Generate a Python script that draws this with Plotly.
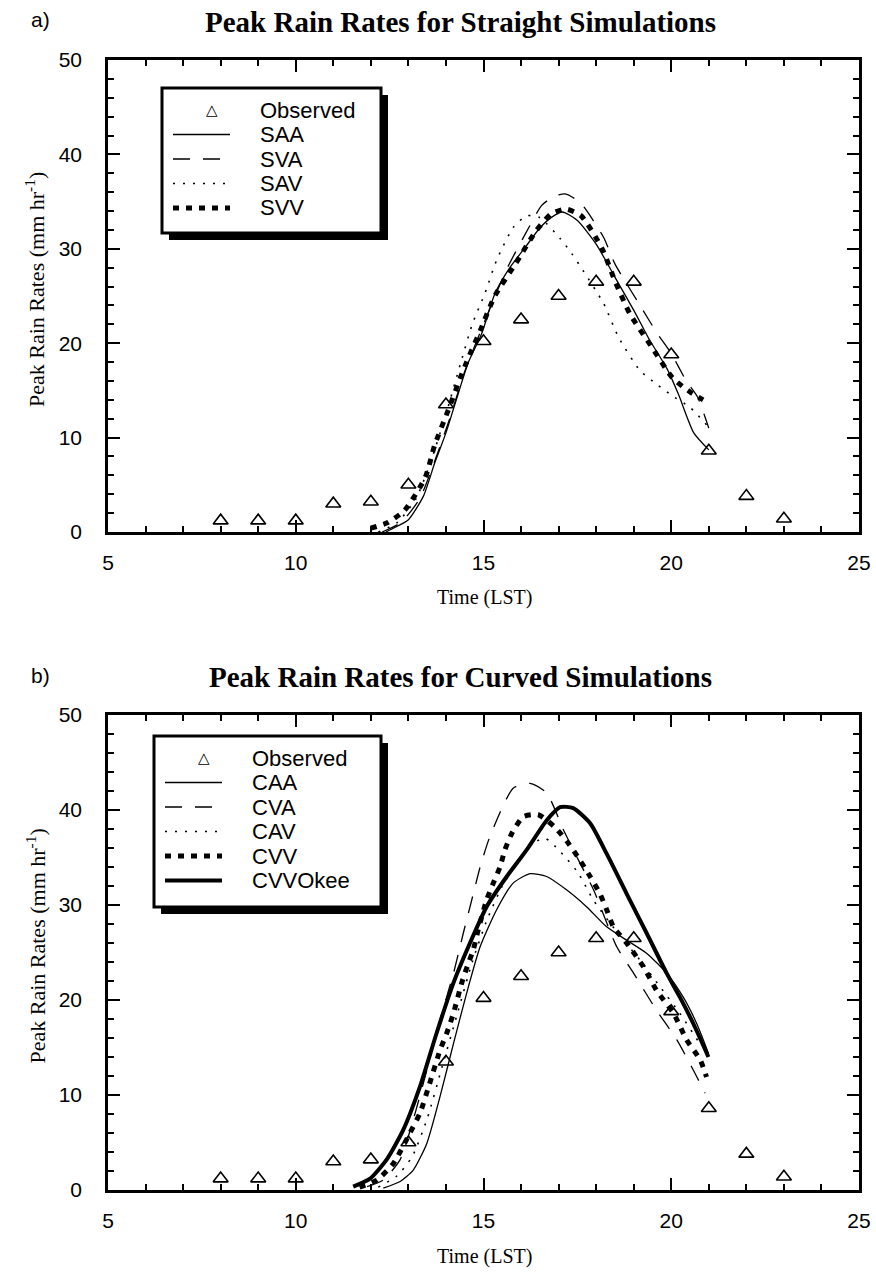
import plotly.graph_objects as go

# ---------------- data ----------------
obs_t = [8, 9, 10, 11, 12, 13, 14, 15, 16, 17, 18, 19, 20, 21, 22, 23]
obs_v = [1.2, 1.2, 1.2, 3.0, 3.2, 5.0, 13.5, 20.2, 22.5, 25.0, 26.5, 26.5, 18.8, 8.6, 3.8, 1.4]

saa_t = [12.4, 12.6, 13.0, 13.4, 13.7, 14.0, 14.33, 14.6, 14.95, 15.3, 15.7, 16.1, 16.5, 16.8, 17.1, 17.5, 18.0, 18.5, 19.0, 19.4, 19.9, 20.2, 20.6, 21.0]
saa_v = [0.0, 0.4, 1.3, 3.8, 7.3, 10.5, 14.7, 18.0, 21.0, 25.2, 28.0, 30.1, 32.2, 33.3, 33.9, 33.0, 30.5, 27.0, 23.5, 20.5, 17.2, 14.5, 10.5, 8.7]

sva_t = [12.3, 12.8, 13.3, 13.7, 14.1, 14.5, 15.0, 15.6, 16.2, 16.55, 16.9, 17.2, 17.6, 18.2, 18.5, 19.2, 19.6, 20.0, 20.4, 20.7, 21.0]
sva_v = [0.0, 1.0, 3.5, 7.5, 12.0, 17.0, 22.0, 27.7, 32.2, 34.6, 35.6, 35.8, 34.8, 31.2, 28.4, 23.8, 21.2, 18.9, 16.0, 14.3, 11.0]

sav_t = [12.2, 12.7, 13.2, 13.6, 14.0, 14.4, 14.7, 15.04, 15.35, 15.8, 16.15, 16.5, 17.04, 17.35, 17.65, 18.2, 18.6, 19.17, 19.6, 20.0, 20.5, 21.0]
sav_v = [0.0, 1.0, 3.5, 7.5, 12.5, 18.0, 22.0, 25.3, 28.8, 32.3, 33.5, 33.3, 31.1, 29.5, 27.7, 24.2, 20.6, 17.1, 15.7, 14.5, 13.2, 11.1]

svv_t = [12.0, 12.45, 12.9, 13.45, 13.7, 14.06, 14.38, 14.55, 14.92, 15.3, 15.85, 16.4, 16.8, 17.2, 17.6, 18.16, 18.5, 18.9, 19.48, 20.04, 20.55, 20.85]
svv_v = [0.4, 1.0, 2.3, 5.8, 9.2, 12.9, 16.3, 18.0, 21.4, 25.0, 28.4, 31.9, 33.7, 34.2, 33.5, 30.0, 26.6, 23.1, 19.6, 16.3, 14.7, 14.0]

caa_t = [12.33, 12.78, 13.13, 13.49, 13.84, 14.2, 14.55, 14.91, 15.35, 15.79, 16.24, 16.68, 17.21, 17.75, 18.28, 18.81, 19.35, 19.88, 20.32, 20.68, 20.99]
caa_v = [0.2, 0.9, 2.1, 4.9, 9.8, 15.4, 20.7, 25.6, 29.5, 32.3, 33.3, 33.0, 31.6, 29.8, 27.7, 26.3, 24.9, 22.8, 20.3, 17.5, 14.4]

cva_t = [11.9, 12.33, 12.78, 13.13, 13.49, 13.84, 14.2, 14.46, 14.73, 14.91, 15.17, 15.79, 16.24, 16.68, 17.13, 17.48, 17.93, 18.55, 19.0, 19.61, 20.15, 20.59, 20.9]
cva_v = [0.35, 1.05, 3.2, 7.4, 12.6, 17.9, 22.8, 27.0, 31.2, 34.0, 37.2, 42.3, 42.8, 41.8, 37.9, 35.1, 31.6, 25.6, 22.8, 18.9, 15.8, 12.6, 10.2]

cav_t = [12.2, 12.7, 13.1, 13.5, 13.9, 14.3, 14.7, 15.1, 15.5, 15.9, 16.3, 16.65, 17.0, 17.5, 17.93, 18.64, 19.17, 19.7, 20.23, 20.77, 21.0]
cav_v = [0.3, 1.5, 3.5, 7.5, 13.0, 18.5, 24.0, 28.5, 32.0, 34.5, 36.5, 37.0, 35.8, 33.5, 30.5, 26.7, 24.2, 21.4, 18.6, 15.4, 14.5]

cvv_t = [11.7, 12.16, 12.6, 13.04, 13.31, 13.58, 13.84, 14.02, 14.2, 14.42, 14.6, 14.73, 14.86, 15.08, 15.26, 15.44, 15.57, 15.75, 16.06, 16.46, 16.9, 17.26, 17.57, 17.84, 18.1, 18.28, 18.46, 18.81, 19.26, 19.61, 20.06, 20.41, 20.77, 20.94]
cvv_v = [0.3, 1.05, 2.8, 6.0, 8.1, 11.4, 14.7, 16.5, 18.6, 21.8, 23.9, 25.3, 27.4, 30.5, 32.3, 34.0, 35.8, 37.5, 39.3, 39.5, 38.2, 36.5, 34.7, 33.0, 31.2, 29.5, 27.7, 26.0, 23.5, 21.0, 18.6, 15.8, 13.7, 11.9]

okee_t = [11.53, 11.98, 12.42, 12.86, 13.31, 13.75, 14.2, 14.64, 15.08, 15.62, 16.15, 16.68, 17.04, 17.39, 17.84, 18.28, 18.81, 19.35, 19.88, 20.23, 20.59, 20.99]
okee_v = [0.35, 1.2, 3.2, 6.3, 10.9, 16.5, 21.8, 26.0, 29.8, 33.0, 35.8, 38.9, 40.3, 40.2, 38.6, 35.4, 31.2, 27.0, 22.8, 20.3, 17.5, 14.0]

x_ticks = [5, 10, 15, 20, 25]
y_ticks = [0, 10, 20, 30, 40, 50]

titles = ["Peak Rain Rates for Straight Simulations", "Peak Rain Rates for Curved Simulations"]
panel_labels = ["a)", "b)"]
legend_a = ["Observed", "SAA", "SVA", "SAV", "SVV"]
legend_b = ["Observed", "CAA", "CVA", "CAV", "CVV", "CVVOkee"]

# ---------------- styles ----------------
W, H = 876, 1272
SANS = "Liberation Sans, Arial, sans-serif"
SERIF = "Liberation Serif, Times New Roman, serif"

STY = {
    "solid": dict(color="black", width=1.3, dash="solid"),
    "dash": dict(color="black", width=1.3, dash="17px,13px"),
    "dot": dict(color="black", width=1.6, dash="2px,8px"),
    "sq": dict(color="black", width=5, dash="6px,7px"),
    "thick": dict(color="black", width=4, dash="solid"),
}


def px(x):
    return x / W


def py(y):
    return 1 - y / H


def label(x, y, text, font, xanchor="center", **kw):
    fig.add_annotation(x=px(x), y=py(y), xref="paper", yref="paper", text=text, showarrow=False,
                       xanchor=xanchor, yanchor="middle", font=font, **kw)


fig = go.Figure()

# panel geometry (pixels)
PL, PR = 108, 859
PANELS = [(60, 532), (715, 1190)]

series_a = [(saa_t, saa_v, "solid"), (sva_t, sva_v, "dash"), (sav_t, sav_v, "dot"), (svv_t, svv_v, "sq")]
series_b = [(caa_t, caa_v, "solid"), (cva_t, cva_v, "dash"), (cav_t, cav_v, "dot"),
            (cvv_t, cvv_v, "sq"), (okee_t, okee_v, "thick")]

axis_common = dict(
    showgrid=False, zeroline=False, showline=True, linecolor="black", linewidth=2.5,
    ticks="inside", tickcolor="black", ticklen=12, tickwidth=1.5, mirror="allticks",
    tickfont=dict(family=SANS, size=21, color="black"),
)

for i, (series, (top, bot)) in enumerate(zip([series_a, series_b], PANELS)):
    xa = "x" if i == 0 else "x2"
    ya = "y" if i == 0 else "y2"
    for t, v, s in series:
        fig.add_trace(go.Scatter(x=t, y=v, mode="lines", line=dict(**STY[s], shape="spline", smoothing=0.6),
                                 xaxis=xa, yaxis=ya, showlegend=False, hoverinfo="skip"))
    fig.add_trace(go.Scatter(x=obs_t, y=obs_v, mode="markers",
                             marker=dict(symbol="triangle-up-open", size=13, color="black", line=dict(width=1.6)),
                             xaxis=xa, yaxis=ya, showlegend=False, hoverinfo="skip"))
    key = "" if i == 0 else "2"
    fig.layout["xaxis" + key] = dict(
        axis_common, domain=[px(PL), px(PR)], range=[5, 25], tickvals=x_ticks,
        minor=dict(dtick=1, ticks="inside", ticklen=6, tickwidth=1.5, tickcolor="black"),
        anchor="y" + key, ticklabelstandoff=10,
    )
    fig.layout["yaxis" + key] = dict(
        axis_common, domain=[py(bot), py(top)], range=[0, 50], tickvals=y_ticks,
        minor=dict(dtick=2, ticks="inside", ticklen=6, tickwidth=1.5, tickcolor="black"),
        anchor="x" + key, ticklabelstandoff=19,
    )
    # titles & labels
    label(460, top - 38, "<b>%s</b>" % titles[i], dict(family=SERIF, size=29, color="black"))
    label(40, top - 40, panel_labels[i], dict(family=SANS, size=21, color="black"))
    label(484, bot + 66, "Time (LST)", dict(family=SERIF, size=20, color="black"))
    label(35, (top + bot) / 2 - 6, "Peak Rain Rates (mm hr<sup>-1</sup>)",
          dict(family=SERIF, size=22, color="black"), textangle=-90)

# ---------------- legends (drawn boxes) ----------------
legend_specs = [
    dict(box=(162, 88, 381, 233), names=legend_a, styles=[None, "solid", "dash", "dot", "sq"], y0=110),
    dict(box=(154, 736, 381, 907), names=legend_b, styles=[None, "solid", "dash", "dot", "sq", "thick"], y0=758),
]
shapes = []
for spec in legend_specs:
    x0, y0, x1, y1 = spec["box"]
    shapes.append(dict(type="rect", xref="paper", yref="paper", x0=px(x0 + 7), x1=px(x1 + 7),
                       y0=py(y1 + 7), y1=py(y0 + 7), fillcolor="black", line=dict(width=0)))
    shapes.append(dict(type="rect", xref="paper", yref="paper", x0=px(x0), x1=px(x1),
                       y0=py(y1), y1=py(y0), fillcolor="white", line=dict(color="black", width=3)))
    ls_x0, ls_x1 = x0 + 11, x0 + 68
    for k, (name, st) in enumerate(zip(spec["names"], spec["styles"])):
        yy = spec["y0"] + k * 24.5
        if st is None:
            label(x0 + 50, yy, "△", dict(family="DejaVu Sans", size=15, color="black"))
        else:
            s = STY[st]
            shapes.append(dict(type="line", xref="paper", yref="paper", x0=px(ls_x0), x1=px(ls_x1),
                               y0=py(yy), y1=py(yy), line=dict(color="black", width=s["width"], dash=s["dash"])))
        label(x0 + 96, yy, name, dict(family=SANS, size=22, color="black"), xanchor="left")

fig.update_layout(
    width=W, height=H, margin=dict(l=0, r=0, t=0, b=0, autoexpand=False),
    paper_bgcolor="white", plot_bgcolor="white", shapes=shapes, showlegend=False,
)

fig.write_html("out.html")
